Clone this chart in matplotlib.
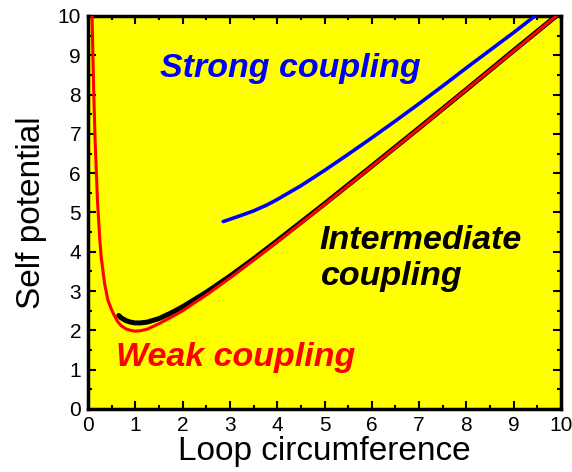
import matplotlib
matplotlib.use("Agg")
import matplotlib.pyplot as plt
from matplotlib.ticker import MultipleLocator

plt.rcParams['font.family'] = ['Liberation Sans', 'DejaVu Sans']

# Weak coupling (red)
weak_x = [0.085, 0.1, 0.12, 0.15, 0.2, 0.25, 0.28, 0.35, 0.42, 0.5, 0.56, 0.63,
          0.7, 0.8, 0.9, 1.0, 1.1, 1.25, 1.5, 1.75, 2, 2.5, 3, 3.5, 4, 5, 6, 7,
          8, 9, 10]
weak_y = [10, 9.2, 8.1, 6.84, 5.3, 4.3, 3.85, 3.2, 2.77, 2.52, 2.37, 2.22,
          2.12, 2.04, 2.0, 1.98, 1.99, 2.03, 2.17, 2.33, 2.5, 2.9, 3.33, 3.79,
          4.25, 5.2, 6.17, 7.14, 8.13, 9.11, 10.1]

# Intermediate coupling (black)
inter_x = [0.65, 0.7, 0.8, 0.9, 1.0, 1.1, 1.25, 1.5, 1.75, 2, 2.5, 3, 3.5, 4,
           5, 6, 7, 8, 9, 10]
inter_y = [2.38, 2.32, 2.25, 2.21, 2.19, 2.19, 2.21, 2.3, 2.44, 2.6, 2.97,
           3.38, 3.82, 4.28, 5.22, 6.18, 7.15, 8.13, 9.12, 10.1]

# Strong coupling (blue)
strong_x = [2.86, 3.2, 3.5, 3.78, 4, 4.5, 5, 5.5, 6, 6.5, 7, 7.5, 8, 8.5, 9,
            9.45]
strong_y = [4.77, 4.91, 5.04, 5.19, 5.33, 5.68, 6.07, 6.48, 6.9, 7.33, 7.77,
            8.22, 8.68, 9.13, 9.58, 10.0]

xticks = list(range(0, 11))
yticks = list(range(0, 11))

fig = plt.figure(figsize=(5.72, 4.72), dpi=100)
ax = fig.add_axes([88/572, 1 - 409/472, (561 - 88)/572, (409 - 16)/472])
ax.set_facecolor('#ffff00')

ax.plot(inter_x, inter_y, color='black', lw=3.6, solid_capstyle='round', zorder=3)
ax.plot(weak_x, weak_y, color='#ff0000', lw=2.2, zorder=4)
ax.plot(strong_x, strong_y, color='#0000ff', lw=2.6, solid_capstyle='round', zorder=3)

ax.set_xlim(0, 10)
ax.set_ylim(0, 10)
ax.set_xticks(xticks)
ax.set_yticks(yticks)
ax.xaxis.set_minor_locator(MultipleLocator(0.5))
ax.yaxis.set_minor_locator(MultipleLocator(0.5))
ax.tick_params(which='both', direction='in', top=True, right=True, width=1.5,
               labelsize=15)
ax.tick_params(which='major', length=6, pad=5)
ax.tick_params(which='minor', length=3)
for s in ax.spines.values():
    s.set_linewidth(2.5)

ax.set_xlabel('Loop circumference', fontsize=24, labelpad=1)
ax.set_ylabel('Self potential', fontsize=24, labelpad=8)

tkw = dict(fontsize=24.5, fontweight='bold', fontstyle='italic', va='center')
ax.text(4.27, 8.67, 'Strong coupling', color='#0000ff', ha='center', **tkw)
ax.text(4.9, 4.3, 'Intermediate', color='black', ha='left', **tkw)
ax.text(4.92, 3.36, 'coupling', color='black', ha='left', **tkw)
ax.text(0.6, 1.3, 'Weak coupling', color='#ff0000', ha='left', **tkw)

fig.savefig('out.png', dpi=100)
